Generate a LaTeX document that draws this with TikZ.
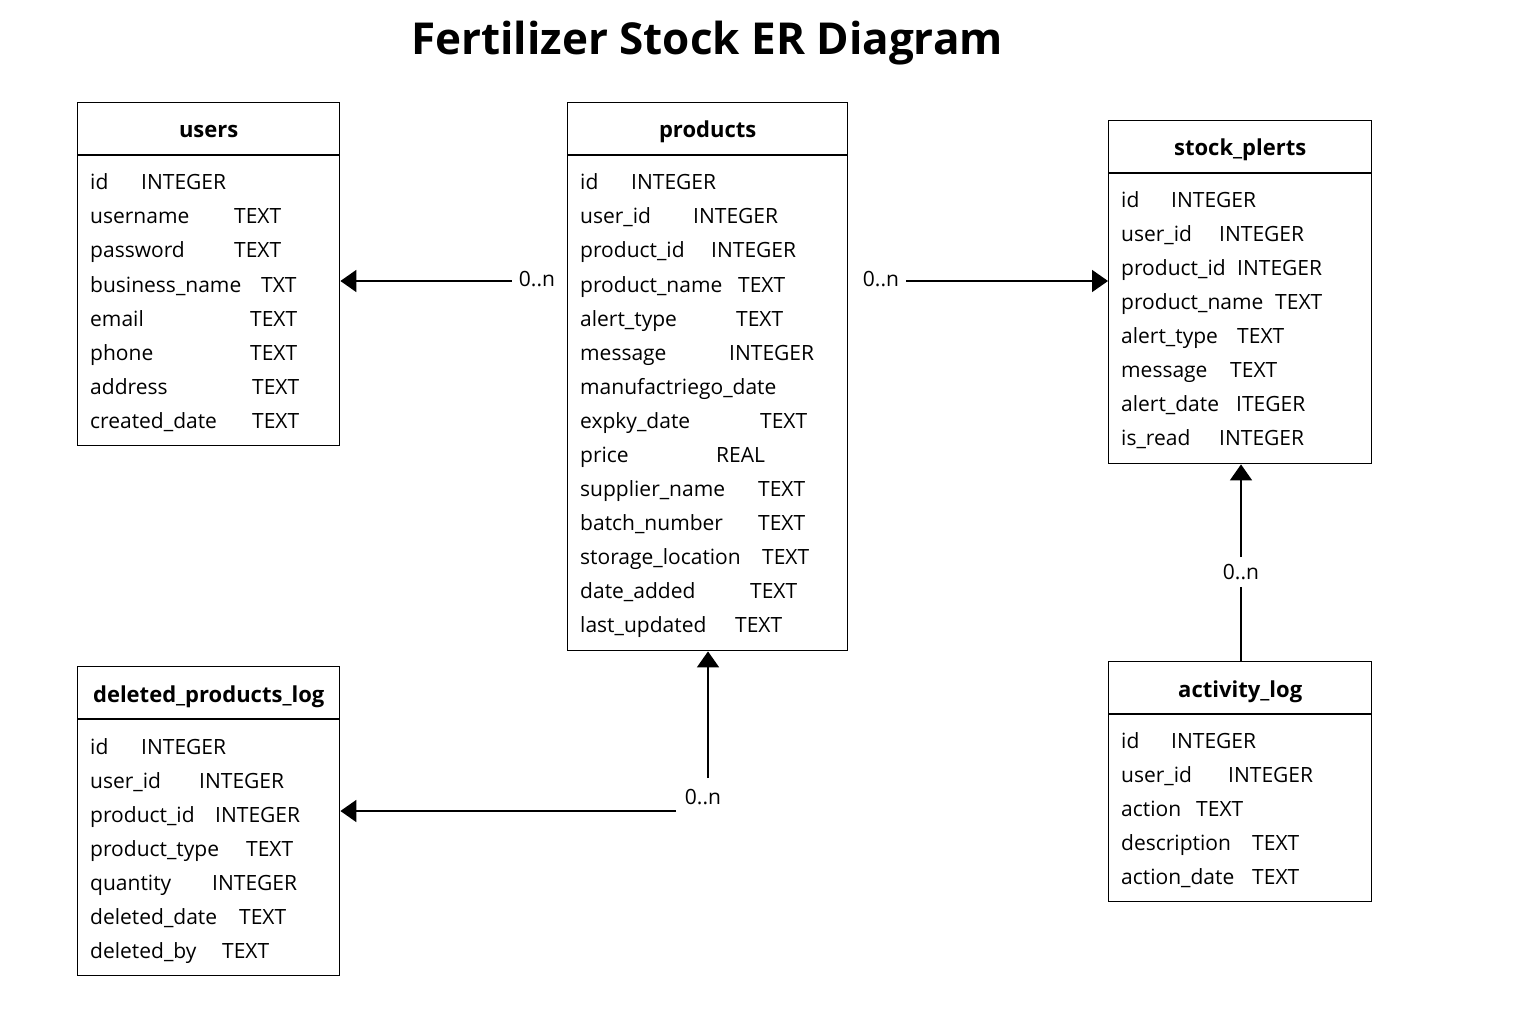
\documentclass[tikz,border=0pt]{standalone}
\usepackage{fontspec}
\setmainfont{Open Sans}
\usetikzlibrary{arrows.meta}
\begin{document}
\begin{tikzpicture}[x=1pt,y=-1pt,
  tbl/.style={draw,line width=1.4pt,rectangle,anchor=north west,inner sep=0pt},
  hdr/.style={anchor=base,inner sep=0pt,font=\fontsize{22}{26}\selectfont\bfseries},
  fld/.style={anchor=base west,inner sep=0pt,font=\fontsize{21}{25}\selectfont},
  card/.style={inner sep=7pt,font=\fontsize{21}{25}\selectfont},
  sepline/.style={line width=1.4pt},
  arr/.style={line width=1.8pt,-{Triangle[length=16pt,width=22pt]}},
  link/.style={line width=1.5pt}]
\fill[white] (0,0) rectangle (1536,1024);
\useasboundingbox (0,0) rectangle (1536,1024);

\node[font=\fontsize{44}{50}\selectfont\bfseries] (title) at (707,43) {Fertilizer Stock ER Diagram};

% tables
\node[tbl,minimum width=262pt,minimum height=343pt] (users) at (77,102) {};
\node[tbl,minimum width=280pt,minimum height=548pt] (prod) at (567,102) {};
\node[tbl,minimum width=263pt,minimum height=343pt] (sp) at (1108,120) {};
\node[tbl,minimum width=262pt,minimum height=309pt] (dpl) at (77,666) {};
\node[tbl,minimum width=263pt,minimum height=240pt] (act) at (1108,661) {};

\foreach \b in {users,prod,sp,dpl,act}{
  \draw[sepline] ([yshift=-53pt]\b.north west) -- ([yshift=-53pt]\b.north east);
}

\node[hdr] (usersh) at ([yshift=-36pt]users.north) {users};
\node[hdr] (prodh) at ([yshift=-36pt]prod.north) {products};
\node[hdr] (sph) at ([yshift=-36pt]sp.north) {stock\_plerts};
\node[hdr] (dplh) at ([yshift=-36pt]dpl.north) {deleted\_products\_log};
\node[hdr] (acth) at ([yshift=-36pt]act.north) {activity\_log};

% users rows
\foreach \n/\t/\x [count=\i from 0] in {id/INTEGER/141, username/TEXT/234, password/TEXT/234,
  business\_name/TXT/261, email/TEXT/250, phone/TEXT/250, address/TEXT/252, created\_date/TEXT/252}{
  \node[fld] (u\i n) at (90,{190+34*\i}) {\n};
  \node[fld] (u\i t) at (\x,{190+34*\i}) {\t};
}

% products rows
\foreach \i/\n/\t/\x in {0/id/INTEGER/631, 1/user\_id/INTEGER/693, 2/product\_id/INTEGER/711,
  3/product\_name/TEXT/738, 4/alert\_type/TEXT/736, 5/message/INTEGER/729,
  7/expky\_date/TEXT/760, 8/price/REAL/716, 9/supplier\_name/TEXT/758,
  10/batch\_number/TEXT/758, 11/storage\_location/TEXT/762, 12/date\_added/TEXT/750,
  13/last\_updated/TEXT/735}{
  \node[fld] (p\i n) at (580,{190+34*\i}) {\n};
  \node[fld] (p\i t) at (\x,{190+34*\i}) {\t};
}
\node[fld] (p6n) at (580,394) {manufactriego\_date};

% stock_plerts rows
\foreach \n/\t/\x [count=\i from 0] in {id/INTEGER/1171, user\_id/INTEGER/1219, product\_id/INTEGER/1237,
  product\_name/TEXT/1275, alert\_type/TEXT/1237, message/TEXT/1230, alert\_date/ITEGER/1236,
  is\_read/INTEGER/1219}{
  \node[fld] (s\i n) at (1121,{208+33.9*\i}) {\n};
  \node[fld] (s\i t) at (\x,{208+33.9*\i}) {\t};
}

% deleted_products_log rows
\foreach \n/\t/\x [count=\i from 0] in {id/INTEGER/141, user\_id/INTEGER/199, product\_id/INTEGER/215,
  product\_type/TEXT/246, quantity/INTEGER/212, deleted\_date/TEXT/239, deleted\_by/TEXT/222}{
  \node[fld] (d\i n) at (90,{754+34*\i}) {\n};
  \node[fld] (d\i t) at (\x,{754+34*\i}) {\t};
}

% activity_log rows
\foreach \n/\t/\x [count=\i from 0] in {id/INTEGER/1171, user\_id/INTEGER/1228, action/TEXT/1196,
  description/TEXT/1252, action\_date/TEXT/1252}{
  \node[fld] (a\i n) at (1121,{748+34*\i}) {\n};
  \node[fld] (a\i t) at (\x,{748+34*\i}) {\t};
}

% cardinality labels
\node[card] (c1) at (537,279) {0..n};
\node[card] (c2) at (881,279) {0..n};
\node[card] (c3) at (1241,572) {0..n};
\node[card] (c4) at (703,797) {0..n};

% connectors
\draw[arr] ([yshift=-2pt]c1.west) -- ([yshift=-2pt]c1.west -| users.east);
\draw[arr] ([yshift=-2pt]c2.east) -- ([yshift=-2pt]c2.east -| sp.west);
\draw[link] (c3.south) -- (c3.south |- act.north);
\draw[arr] (c3.north) -- (c3.north |- sp.south);
\coordinate (dj) at (676,811);
\coordinate (dk) at (708,778);
\draw[arr] (dj) -- (dj -| dpl.east);
\draw[arr] (dk) -- (dk |- prod.south);
\end{tikzpicture}
\end{document}
